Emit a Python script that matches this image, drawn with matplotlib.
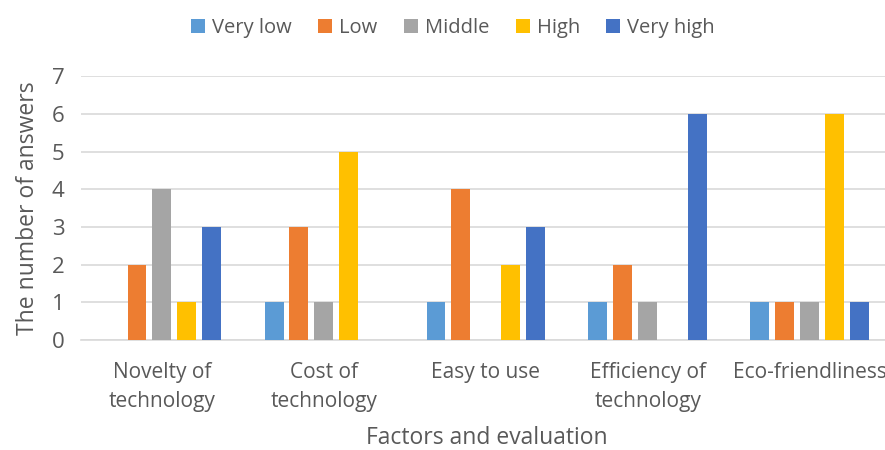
import numpy as np
import matplotlib.pyplot as plt

factors = ['Novelty of\ntechnology', 'Cost of\ntechnology', 'Easy to use',
           'Efficiency of\ntechnology', 'Eco-friendliness']
levels = ['Very low', 'Low', 'Middle', 'High', 'Very high']
very_low = [0, 1, 1, 1, 1]
low = [2, 3, 4, 2, 1]
middle = [4, 1, 0, 1, 1]
high = [1, 5, 2, 0, 6]
very_high = [3, 0, 3, 6, 1]
colors = ['#5B9BD5', '#ED7D31', '#A5A5A5', '#FFC000', '#4472C4']

txt = '#595959'
plt.rcParams['font.family'] = ['Open Sans', 'DejaVu Sans']

fig = plt.figure(figsize=(8.85, 4.5), dpi=100)
ax = fig.add_axes([0.0915, 0.244, 0.915, 0.587])

x = np.arange(len(factors))
step = 0.154
width = 0.117
series = [very_low, low, middle, high, very_high]
for i, (vals, lab, c) in enumerate(zip(series, levels, colors)):
    ax.bar(x + (i - 2) * step, vals, width, color=c, label=lab, zorder=3)

ax.set_xlim(-0.5, len(factors) - 0.5)
ax.set_ylim(0, 7)
ax.set_yticks(range(8))
ax.set_xticks(x)
ax.set_xticklabels(factors, linespacing=1.5)
ax.tick_params(axis='both', length=0, colors=txt)
ax.tick_params(axis='x', pad=16, labelsize=15)
ax.tick_params(axis='y', pad=12, labelsize=16)
ax.yaxis.grid(True, color='#D9D9D9', linewidth=1.2, zorder=0)
for s in ['top', 'right', 'left']:
    ax.spines[s].set_visible(False)
ax.spines['bottom'].set_color('#D9D9D9')
ax.spines['bottom'].set_linewidth(1.2)

ax.set_ylabel('The number of answers', fontsize=16.5, color=txt, labelpad=8)
fig.text(0.55, 0.0, 'Factors and evaluation', ha='center', va='bottom',
         fontsize=16.5, color=txt)

leg = fig.legend(loc='upper center', bbox_to_anchor=(0.512, 1.0), ncol=5,
                 frameon=False, fontsize=14.5, handlelength=0.7, handleheight=0.7,
                 handletextpad=0.35, columnspacing=1.3)
for t in leg.get_texts():
    t.set_color(txt)

fig.savefig('out.png', dpi=100)
